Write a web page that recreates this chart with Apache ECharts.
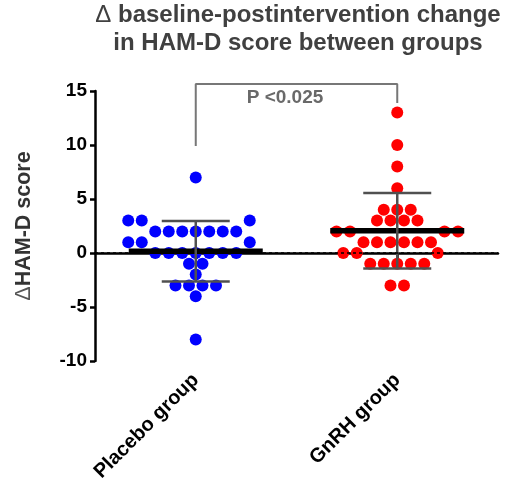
<!DOCTYPE html>
<html><head><meta charset="utf-8">
<script src="https://cdn.jsdelivr.net/npm/echarts@6/dist/echarts.min.js"></script>
<style>html,body{margin:0;padding:0;background:#fff}#c{width:510px;height:490px}</style>
</head><body><div id="c"></div>
<script>
// ---- data ----
const categories = ['Placebo group', 'GnRH group'];
const placeboValues = [7, 3, 3, 3, 2, 2, 2, 2, 2, 2, 2, 1, 1, 1, 0, 0, 0, 0, 0, 0, 0, -1, -1, -2, -3, -3, -3, -3, -4, -8];
const gnrhValues = [13, 10, 8, 6, 4, 4, 4, 3, 3, 3, 3, 2, 2, 2, 2, 1, 1, 1, 1, 1, 1, 0, 0, 0, -1, -1, -1, -1, -1, -3, -3];
const yMin = -10, yMax = 15, yInterval = 5;
const titleLines = ['{d|\u0394} baseline-postintervention change', 'in HAM-D score between groups'];
const yAxisName = '{d|\u0394}HAM-D score';
const pText = 'P <0.025';
const pTextAt = [1.443, 14.4];
const bracketTop = 15.65;
const bracketEnds = [9.9, 13.9];

// ---- layout constants ----
const FONT = '"Liberation Sans", Arial, sans-serif';
const W = 510, H = 490;
const GRID = { left: 95, right: 12, top: 91, bottom: 129 };
const plotW = W - GRID.left - GRID.right;
const plotH = H - GRID.top - GRID.bottom;
const pxPerX = plotW / 2;
const pxPerY = plotH / (yMax - yMin);
const STEP = 13.5, MINDIST = 12;

function mean(a) { return a.reduce((s, v) => s + v, 0) / a.length; }
function sd(a) { const m = mean(a); return Math.sqrt(a.reduce((s, v) => s + (v - m) * (v - m), 0) / (a.length - 1)); }

// beeswarm layout in pixel space, converted to axis units
function swarm(values, center) {
  const counts = new Map();
  values.forEach(v => counts.set(v, (counts.get(v) || 0) + 1));
  const rows = [...counts.entries()].sort((a, b) => b[1] - a[1] || b[0] - a[0]);
  const placed = [];
  const out = [];
  rows.forEach(([v, n]) => {
    const y = v * pxPerY;
    const base = n % 2 ? 0 : STEP / 2;
    const cands = [];
    for (let k = 0; k < 30; k++) {
      const o = base + k * STEP;
      if (o === 0) cands.push(0); else cands.push(-o, o);
    }
    let c = 0;
    for (let i = 0; i < n; i++) {
      while (c < cands.length) {
        const dx = cands[c++];
        if (placed.every(p => Math.hypot(p.dx - dx, p.y - y) >= MINDIST)) {
          placed.push({ dx, y });
          out.push([center + dx / pxPerX, v]);
          break;
        }
      }
    }
  });
  return out;
}

const groups = [placeboValues, gnrhValues];
const stats = groups.map((g, i) => [i + 1, mean(g), sd(g)]);

const chart = echarts.init(document.getElementById('c'), null, { renderer: 'canvas' });
chart.setOption({
  animation: false,
  backgroundColor: '#fff',
  graphic: [{
    type: 'text', x: 298, y: 1, z: 10,
    style: {
      text: titleLines.join('\n'),
      fill: '#404040', fontSize: 24, fontWeight: 'bold', fontFamily: FONT,
      align: 'center', verticalAlign: 'top', lineHeight: 28,
      rich: { d: { fontWeight: 'normal', fontSize: 24, fontFamily: FONT, fill: '#404040', lineHeight: 28 } }
    }
  }],
  grid: { left: GRID.left, right: GRID.right, top: GRID.top, bottom: GRID.bottom, containLabel: false, outerBoundsMode: 'none' },
  xAxis: [{
    type: 'category', data: categories, boundaryGap: true,
    axisLine: { show: true, lineStyle: { color: '#000', width: 2.5 } },
    axisTick: { show: true, alignWithLabel: true, length: 6, lineStyle: { color: '#000', width: 2.5 } },
    axisLabel: { rotate: 45, color: '#000', fontWeight: 'bold', fontSize: 20, fontFamily: FONT, margin: 16, interval: 0 },
    splitLine: { show: false }
  }, {
    type: 'value', min: 0.5, max: 2.5, show: false
  }],
  yAxis: {
    type: 'value', min: yMin, max: yMax, interval: yInterval,
    axisLine: { show: true, lineStyle: { color: '#000', width: 2.5 } },
    axisTick: { show: true, length: 5, lineStyle: { color: '#000', width: 2.5 } },
    axisLabel: { color: '#000', fontWeight: 'bold', fontSize: 19, fontFamily: FONT, margin: 8 },
    splitLine: { show: false },
    name: yAxisName, nameLocation: 'middle', nameGap: 60, nameRotate: 90,
    nameTextStyle: {
      color: '#333', fontWeight: 'bold', fontSize: 21.5, fontFamily: FONT,
      rich: { d: { color: '#555', fontWeight: 'normal', fontSize: 21.5, fontFamily: FONT } }
    }
  },
  series: [{
    type: 'line', xAxisIndex: 1, data: [], z: 1, silent: true,
    markLine: {
      silent: true, symbol: ['none', 'none'], label: { show: false },
      lineStyle: { color: '#000', type: [3, 3], width: 1.5 },
      data: [{ yAxis: 0 }]
    }
  }, {
    type: 'scatter', xAxisIndex: 1, data: swarm(placeboValues, 1), symbolSize: 12, z: 2,
    itemStyle: { color: '#0000ff', opacity: 1 }
  }, {
    type: 'scatter', xAxisIndex: 1, data: swarm(gnrhValues, 2), symbolSize: 12, z: 2,
    itemStyle: { color: '#ff0000', opacity: 1 }
  }, {
    type: 'custom', xAxisIndex: 1, data: stats, z: 3,
    renderItem: function (params, api) {
      const x = api.value(0), m = api.value(1), s = api.value(2);
      const c = api.coord([x, m]);
      const t = api.coord([x, m + s]);
      const b = api.coord([x, m - s]);
      const grey = { stroke: '#505050', lineWidth: 2.5 };
      return {
        type: 'group', children: [
          { type: 'line', shape: { x1: c[0] - 67, y1: c[1], x2: c[0] + 67, y2: c[1] }, style: { stroke: '#000', lineWidth: 5.5 } },
          { type: 'line', shape: { x1: t[0], y1: t[1], x2: b[0], y2: b[1] }, style: grey },
          { type: 'line', shape: { x1: t[0] - 34, y1: t[1], x2: t[0] + 34, y2: t[1] }, style: grey },
          { type: 'line', shape: { x1: b[0] - 34, y1: b[1], x2: b[0] + 34, y2: b[1] }, style: grey }
        ]
      };
    }
  }, {
    type: 'line', xAxisIndex: 1, clip: false, symbol: 'none', z: 4, silent: true,
    lineStyle: { color: '#777', width: 2 },
    data: [[1, bracketEnds[0]], [1, bracketTop], [2, bracketTop], [2, bracketEnds[1]]]
  }, {
    type: 'scatter', xAxisIndex: 1, clip: false, symbolSize: 0, z: 5, silent: true,
    data: [pTextAt],
    label: { show: true, position: 'inside', formatter: pText, color: '#444', fontWeight: 'bold', fontSize: 19, fontFamily: FONT }
  }]
});
</script>
</body></html>
